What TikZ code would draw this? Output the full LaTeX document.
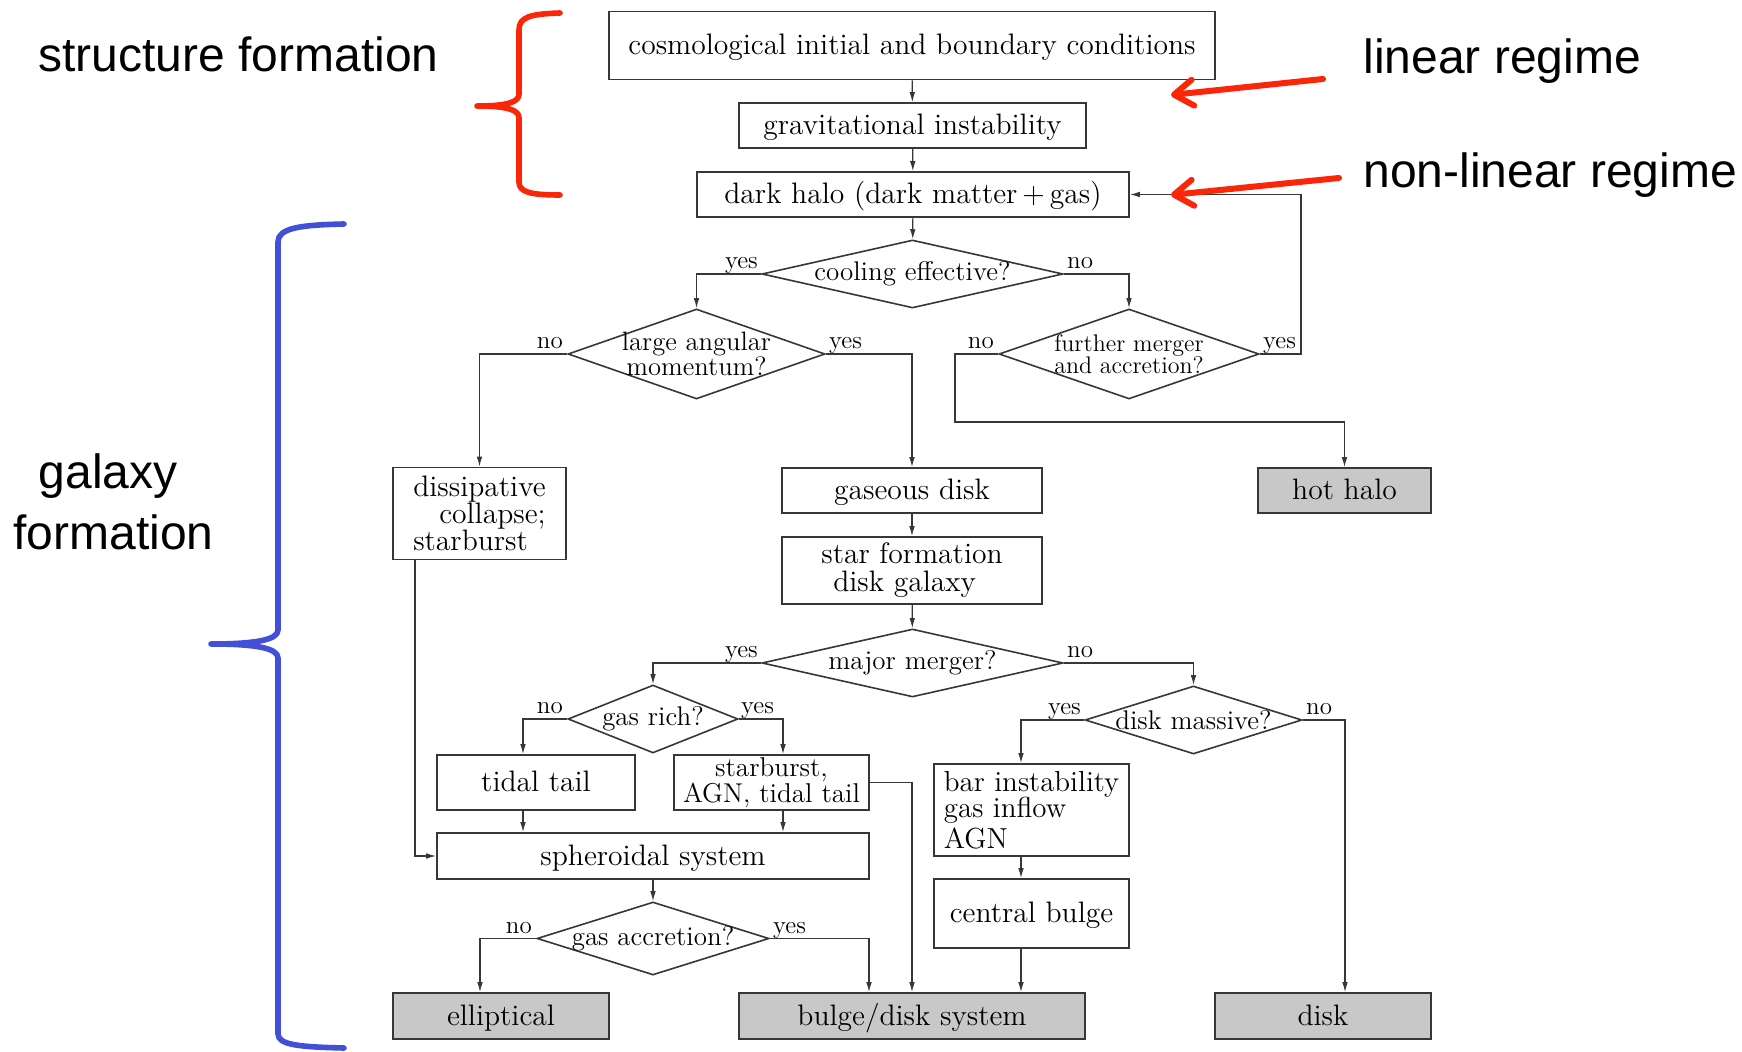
\documentclass[tikz,border=0pt]{standalone}
\usepackage{fontspec}
\newfontfamily\annfont{Liberation Sans}
\usetikzlibrary{shapes.geometric,arrows.meta,calc}
\definecolor{redc}{RGB}{250,38,8}
\definecolor{bluec}{RGB}{66,80,216}
\definecolor{linec}{RGB}{55,55,55}
\definecolor{termc}{RGB}{200,200,200}
\lineskiplimit=-20pt
\begin{document}
\begin{tikzpicture}[x=0.5pt,y=-0.5pt,
  box/.style={draw=linec, line width=0.8pt, rectangle, inner sep=0pt, align=center,
    font=\fontsize{14.8}{13.5}\selectfont},
  one/.style={text height=12pt, text depth=2.5pt},
  term/.style={box, one, fill=termc},
  dia/.style={draw=linec, line width=0.8pt, diamond, inner sep=0pt},
  dtext/.style={inner sep=0pt, align=center, font=\fontsize{13.5}{12}\selectfont},
  lbl/.style={inner sep=0pt, font=\fontsize{12.5}{12}\selectfont},
  arr/.style={draw=linec, line width=0.6pt, -{Latex[length=5pt,width=2.8pt]}},
  ann/.style={inner sep=0pt, font=\annfont\fontsize{24}{29}\selectfont},
  redarr/.style={draw=redc, line width=3pt, line cap=round,
    -{Straight Barb[length=9.5pt,width=13pt,round]}}
]
\useasboundingbox (0,0) rectangle (1742,1052);
\fill[white] (0,0) rectangle (1742,1052);

% ---------- boxes ----------
\node[box, one, minimum width=303pt, minimum height=34pt] (cosmo) at (912,45.5) {cosmological initial and boundary conditions};
\node[box, one, minimum width=173.5pt, minimum height=22.5pt] (grav) at (912.5,125.5) {gravitational instability};
\node[box, one, minimum width=216pt, minimum height=22.5pt] (halo) at (913,194.5) {dark halo (dark matter\,+\,gas)};

\node[dia, minimum width=150.5pt, minimum height=34pt] (cool) at (912.5,274) {};
\node[dtext] (coolT) at (cool) {cooling effective?};
\node[dia, minimum width=128.5pt, minimum height=45pt] (lam) at (696.5,354) {};
\node[dtext, font=\fontsize{13.3}{12.2}\selectfont] (lamT) at (lam) {large angular\\momentum?};
\node[dia, minimum width=130pt, minimum height=45pt] (fma) at (1129,354) {};
\node[dtext, font=\fontsize{12}{11.2}\selectfont] (fmaT) at (fma) {further merger\\and accretion?};

\node[box, minimum width=86.5pt, minimum height=46pt, align=left, font=\fontsize{14.8}{13.5}\selectfont] (diss) at (479.5,513.5) {dissipative\\\hspace*{13pt}collapse;\\starburst};
\node[box, one, minimum width=130pt, minimum height=22.5pt] (gdisk) at (912,490.5) {gaseous disk};
\node[term, minimum width=86.5pt, minimum height=22.5pt] (hot) at (1344.5,490.5) {hot halo};
\node[box, minimum width=130pt, minimum height=33.5pt, align=left, font=\fontsize{14.8}{14}\selectfont] (sfd) at (912,570.5) {star formation\\\hspace*{6pt}disk galaxy};

\node[dia, minimum width=150.5pt, minimum height=34pt] (major) at (912.5,663) {};
\node[dtext] (majorT) at (major) {major merger?};
\node[dia, minimum width=85pt, minimum height=34pt] (gasrich) at (653,719) {};
\node[dtext] (gasrichT) at (gasrich) {gas rich?};
\node[dia, minimum width=108.5pt, minimum height=34pt] (diskm) at (1193.5,720) {};
\node[dtext] (diskmT) at (diskm) {disk massive?};

\node[box, one, minimum width=99pt, minimum height=27.5pt] (tidal) at (536,782.5) {tidal tail};
\node[box, minimum width=97.5pt, minimum height=27.5pt, font=\fontsize{13.6}{13}\selectfont] (star) at (771.5,782.5) {starburst,\\AGN, tidal tail};
\node[box, minimum width=97.5pt, minimum height=46pt, align=left, font=\fontsize{14.5}{13.2}\selectfont] (bar) at (1031.5,810) {bar instability\\gas inflow\\[2pt]AGN};
\node[box, one, minimum width=216pt, minimum height=23pt] (sph) at (653,856) {spheroidal system};
\node[box, one, minimum width=97.5pt, minimum height=34.5pt] (cbulge) at (1031.5,913.5) {central bulge};

\node[dia, minimum width=116pt, minimum height=36.5pt] (gacc) at (653,938.5) {};
\node[dtext] (gaccT) at (gacc) {gas accretion?};

\node[term, minimum width=108pt, minimum height=23pt] (ell) at (501,1016) {elliptical};
\node[term, minimum width=173pt, minimum height=23pt] (bd) at (912,1016) {bulge/disk system};
\node[term, minimum width=108pt, minimum height=23pt] (disk) at (1323,1016) {disk};

% ---------- connectors ----------
\draw[arr] (cosmo) -- (grav);
\draw[arr] (grav) -- (halo);
\draw[arr] (halo) -- (cool);
\draw[arr] (cool.west) -| (lam.north);
\draw[arr] (cool.east) -| (fma.north);
\draw[arr] (lam.west) -| (diss.north);
\draw[arr] (lam.east) -| (gdisk.north);
\coordinate (fbend) at (955,422);
\draw[arr] (fma.west) -| (fbend) -| (hot.north);
\coordinate (fyes) at (1301,354);
\draw[arr] (fma.east) -- (fyes) |- (halo.east);
\draw[arr] (gdisk) -- (sfd);
\draw[arr] (sfd) -- (major);
\draw[arr] (major.west) -| (gasrich.north);
\draw[arr] (major.east) -| (diskm.north);
\draw[arr] (gasrich.west) -| ($(tidal.north)+(-13,0)$);
\draw[arr] (gasrich.east) -| ($(star.north)+(11.5,0)$);
\draw[arr] (diskm.west) -| ($(bar.north)+(-10.5,0)$);
\draw[arr] (diskm.east) -| ($(disk.north)+(22,0)$);
\draw[arr] ($(diss.south)+(-64.5,0)$) |- (sph.west);
\draw[arr] ($(tidal.south)+(-13,0)$) coordinate (t1) -- (t1 |- sph.north);
\draw[arr] ($(star.south)+(11.5,0)$) coordinate (s1) -- (s1 |- sph.north);
\draw[arr] (star.east) -| (bd.north);
\draw[arr] ($(bar.south)+(-10.5,0)$) coordinate (b1) -- (b1 |- cbulge.north);
\draw[arr] ($(cbulge.south)+(-10.5,0)$) coordinate (c1) -- (c1 |- bd.north);
\draw[arr] (sph) -- (gacc);
\draw[arr] (gacc.west) -| ($(ell.north)+(-21,0)$);
\draw[arr] (gacc.east) -| ($(bd.north)+(-43,0)$);

% ---------- yes / no labels ----------
\node[lbl, anchor=base east] (l1) at ($(cool.west)+(-3,-5)$) {yes};
\node[lbl, anchor=base west] (l2) at ($(cool.east)+(3,-5)$) {no};
\node[lbl, anchor=base east] (l3) at ($(lam.west)+(-4,-5)$) {no};
\node[lbl, anchor=base west] (l4) at ($(lam.east)+(3,-5)$) {yes};
\node[lbl, anchor=base east] (l5) at ($(fma.west)+(-4,-5)$) {no};
\node[lbl, anchor=base west] (l6) at ($(fma.east)+(3,-5)$) {yes};
\node[lbl, anchor=base east] (l7) at ($(major.west)+(-3,-5)$) {yes};
\node[lbl, anchor=base west] (l8) at ($(major.east)+(3,-5)$) {no};
\node[lbl, anchor=base east] (l9) at ($(gasrich.west)+(-4,-5)$) {no};
\node[lbl, anchor=base west] (l10) at ($(gasrich.east)+(2,-5)$) {yes};
\node[lbl, anchor=base east] (l11) at ($(diskm.west)+(-3,-5)$) {yes};
\node[lbl, anchor=base west] (l12) at ($(diskm.east)+(3,-5)$) {no};
\node[lbl, anchor=base east] (l13) at ($(gacc.west)+(-4,-5)$) {no};
\node[lbl, anchor=base west] (l14) at ($(gacc.east)+(3,-5)$) {yes};

% ---------- annotations ----------
\node[ann, anchor=base] (sf) at (238.5,72) {structure formation};
\node[ann, anchor=base west] (lin) at (1363,74) {linear regime};
\node[ann, anchor=base west] (nlin) at (1363,188) {non-linear regime};
\node[ann, anchor=base] (gf1) at (108,489) {galaxy};
\node[ann, anchor=base] (gf2) at (113.5,550) {formation};

\coordinate (ra1) at (1323,79);
\coordinate (ra1t) at (1171,95);
\coordinate (ra2) at (1339,178);
\coordinate (ra2t) at (1171,195);
\draw[redarr] (ra1) -- (ra1t);
\draw[redarr] (ra2) -- (ra2t);

% braces
\draw[redc, line width=2.8pt, line cap=round, line join=round]
  (560,13) .. controls (530,14) and (519,17) .. (519,30) -- (519,94)
  .. controls (519,102) and (508,106) .. (477,106)
  .. controls (508,106) and (519,110) .. (519,118) -- (519,182)
  .. controls (519,192) and (530,195) .. (560,195);
\draw[bluec, line width=2.8pt, line cap=round, line join=round]
  (344,224) .. controls (300,225) and (278,228) .. (278,242) -- (278,630)
  .. controls (278,640) and (255,644) .. (211,644)
  .. controls (255,644) and (278,648) .. (278,658) -- (278,1034)
  .. controls (278,1045) and (300,1047) .. (344,1048);
\end{tikzpicture}
\end{document}
